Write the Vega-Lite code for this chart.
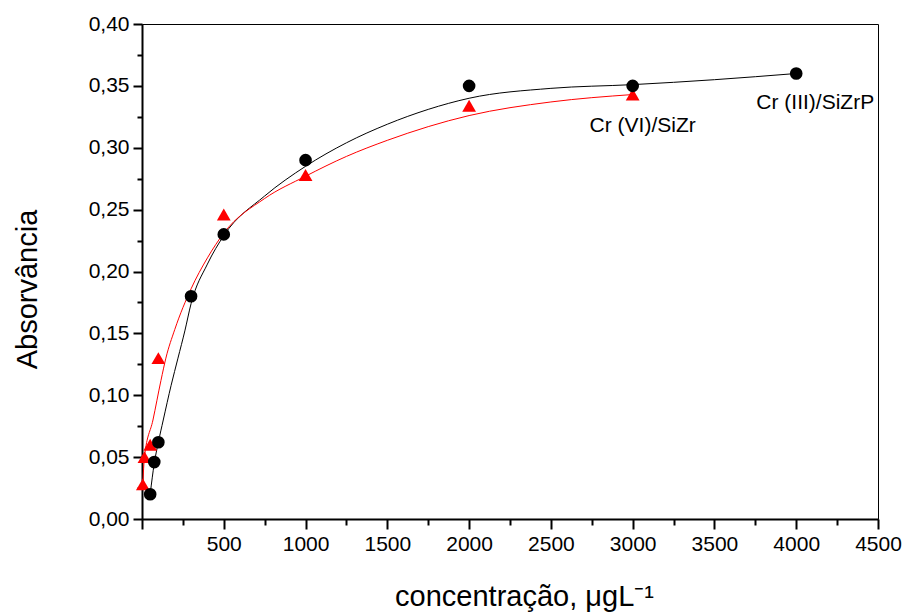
{
  "$schema": "https://vega.github.io/schema/vega-lite/v6.json",
  "width": 736,
  "height": 495,
  "autosize": "none",
  "padding": {"left": 142, "top": 24, "right": 26, "bottom": 95},
  "background": "white",
  "config": {"view": {"stroke": "black", "strokeWidth": 1}, "font": "Liberation Sans"},
  "datasets": {
    "points": [
      {"conc": 50, "abs": 0.020, "series": "Cr (III)/SiZrP"},
      {"conc": 75, "abs": 0.046, "series": "Cr (III)/SiZrP"},
      {"conc": 100, "abs": 0.062, "series": "Cr (III)/SiZrP"},
      {"conc": 300, "abs": 0.180, "series": "Cr (III)/SiZrP"},
      {"conc": 500, "abs": 0.230, "series": "Cr (III)/SiZrP"},
      {"conc": 1000, "abs": 0.290, "series": "Cr (III)/SiZrP"},
      {"conc": 2000, "abs": 0.350, "series": "Cr (III)/SiZrP"},
      {"conc": 3000, "abs": 0.350, "series": "Cr (III)/SiZrP"},
      {"conc": 4000, "abs": 0.360, "series": "Cr (III)/SiZrP"},
      {"conc": 5, "abs": 0.028, "series": "Cr (VI)/SiZr"},
      {"conc": 15, "abs": 0.050, "series": "Cr (VI)/SiZr"},
      {"conc": 50, "abs": 0.060, "series": "Cr (VI)/SiZr"},
      {"conc": 100, "abs": 0.130, "series": "Cr (VI)/SiZr"},
      {"conc": 500, "abs": 0.246, "series": "Cr (VI)/SiZr"},
      {"conc": 1000, "abs": 0.278, "series": "Cr (VI)/SiZr"},
      {"conc": 2000, "abs": 0.334, "series": "Cr (VI)/SiZr"},
      {"conc": 3000, "abs": 0.343, "series": "Cr (VI)/SiZr"}
    ],
    "curves": [
      {"conc": 50, "abs": 0.020, "series": "Cr (III)/SiZrP"},
      {"conc": 75, "abs": 0.045, "series": "Cr (III)/SiZrP"},
      {"conc": 100, "abs": 0.062, "series": "Cr (III)/SiZrP"},
      {"conc": 130, "abs": 0.080, "series": "Cr (III)/SiZrP"},
      {"conc": 178, "abs": 0.108, "series": "Cr (III)/SiZrP"},
      {"conc": 220, "abs": 0.130, "series": "Cr (III)/SiZrP"},
      {"conc": 262, "abs": 0.152, "series": "Cr (III)/SiZrP"},
      {"conc": 300, "abs": 0.174, "series": "Cr (III)/SiZrP"},
      {"conc": 400, "abs": 0.206, "series": "Cr (III)/SiZrP"},
      {"conc": 500, "abs": 0.229, "series": "Cr (III)/SiZrP"},
      {"conc": 750, "abs": 0.261, "series": "Cr (III)/SiZrP"},
      {"conc": 1000, "abs": 0.285, "series": "Cr (III)/SiZrP"},
      {"conc": 1250, "abs": 0.304, "series": "Cr (III)/SiZrP"},
      {"conc": 1500, "abs": 0.319, "series": "Cr (III)/SiZrP"},
      {"conc": 1750, "abs": 0.331, "series": "Cr (III)/SiZrP"},
      {"conc": 2000, "abs": 0.340, "series": "Cr (III)/SiZrP"},
      {"conc": 2500, "abs": 0.348, "series": "Cr (III)/SiZrP"},
      {"conc": 3000, "abs": 0.351, "series": "Cr (III)/SiZrP"},
      {"conc": 3500, "abs": 0.355, "series": "Cr (III)/SiZrP"},
      {"conc": 4000, "abs": 0.360, "series": "Cr (III)/SiZrP"},
      {"conc": 5, "abs": 0.028, "series": "Cr (VI)/SiZr"},
      {"conc": 15, "abs": 0.050, "series": "Cr (VI)/SiZr"},
      {"conc": 67, "abs": 0.080, "series": "Cr (VI)/SiZr"},
      {"conc": 116, "abs": 0.112, "series": "Cr (VI)/SiZr"},
      {"conc": 146, "abs": 0.130, "series": "Cr (VI)/SiZr"},
      {"conc": 200, "abs": 0.153, "series": "Cr (VI)/SiZr"},
      {"conc": 300, "abs": 0.186, "series": "Cr (VI)/SiZr"},
      {"conc": 400, "abs": 0.211, "series": "Cr (VI)/SiZr"},
      {"conc": 500, "abs": 0.231, "series": "Cr (VI)/SiZr"},
      {"conc": 750, "abs": 0.259, "series": "Cr (VI)/SiZr"},
      {"conc": 1000, "abs": 0.277, "series": "Cr (VI)/SiZr"},
      {"conc": 1250, "abs": 0.293, "series": "Cr (VI)/SiZr"},
      {"conc": 1500, "abs": 0.306, "series": "Cr (VI)/SiZr"},
      {"conc": 2000, "abs": 0.326, "series": "Cr (VI)/SiZr"},
      {"conc": 2500, "abs": 0.337, "series": "Cr (VI)/SiZr"},
      {"conc": 3000, "abs": 0.343, "series": "Cr (VI)/SiZr"}
    ]
  },
  "layer": [
    {
      "data": {"name": "curves"},
      "mark": {"type": "line", "interpolate": "monotone", "strokeWidth": 1},
      "encoding": {
        "x": {"field": "conc", "type": "quantitative",
          "scale": {"domain": [0, 4500], "nice": false, "zero": false},
          "axis": {"orient": "bottom", "values": [250, 750, 1250, 1750, 2250, 2750, 3250, 3750, 4250],
            "tickSize": 6, "tickWidth": 2, "tickColor": "black", "labels": false, "domain": false, "grid": false, "title": null}},
        "y": {"field": "abs", "type": "quantitative",
          "scale": {"domain": [0, 0.4], "nice": false, "zero": false},
          "axis": {"orient": "left", "values": [0.025, 0.075, 0.125, 0.175, 0.225, 0.275, 0.325, 0.375],
            "tickSize": 5, "tickWidth": 2, "tickColor": "black", "labels": false, "domain": false, "grid": false, "title": null}},
        "color": {"field": "series", "type": "nominal",
          "scale": {"domain": ["Cr (III)/SiZrP", "Cr (VI)/SiZr"], "range": ["#000000", "#ff0000"]}, "legend": null},
        "detail": {"field": "series"}
      }
    },
    {
      "data": {"name": "points"},
      "transform": [{"filter": "datum.series === 'Cr (VI)/SiZr'"}],
      "mark": {"type": "point", "shape": "triangle-up", "filled": true, "size": 190, "opacity": 1, "color": "#ff0000"},
      "encoding": {
        "x": {"field": "conc", "type": "quantitative", "scale": {"domain": [0, 4500], "nice": false, "zero": false}, "axis": null},
        "y": {"field": "abs", "type": "quantitative", "scale": {"domain": [0, 0.4], "nice": false, "zero": false}, "axis": null}
      }
    },
    {
      "data": {"name": "points"},
      "transform": [{"filter": "datum.series === 'Cr (III)/SiZrP'"}],
      "mark": {"type": "point", "shape": "circle", "filled": true, "size": 160, "opacity": 1, "color": "#000000"},
      "encoding": {
        "x": {"field": "conc", "type": "quantitative",
          "scale": {"domain": [0, 4500], "nice": false, "zero": false},
          "axis": {"orient": "bottom", "values": [0, 500, 1000, 1500, 2000, 2500, 3000, 3500, 4000, 4500],
            "labelExpr": "datum.value === 0 ? '' : format(datum.value, 'd')",
            "tickSize": 10, "tickWidth": 2, "tickColor": "black", "domainWidth": 2, "domainColor": "black",
            "labelFont": "Liberation Sans", "labelFontSize": 21, "labelColor": "black", "labelPadding": 4,
            "labelFlush": false, "labelOverlap": false, "labelBound": false, "grid": false,
            "title": "concentração, μgL⁻¹", "titleFont": "Liberation Sans", "titleFontSize": 29, "titleFontWeight": "normal",
            "titleColor": "black", "titleX": 382, "titleY": 86, "titleBaseline": "alphabetic", "titleAlign": "center"}},
        "y": {"field": "abs", "type": "quantitative",
          "scale": {"domain": [0, 0.4], "nice": false, "zero": false},
          "axis": {"orient": "left", "values": [0, 0.05, 0.1, 0.15, 0.2, 0.25, 0.3, 0.35, 0.4],
            "labelExpr": "replace(format(datum.value, '.2f'), '.', ',')",
            "tickSize": 9, "tickWidth": 2, "tickColor": "black", "domainWidth": 2, "domainColor": "black",
            "labelFont": "Liberation Sans", "labelFontSize": 21, "labelColor": "black", "labelPadding": 4,
            "labelOverlap": false, "labelBound": false, "grid": false,
            "title": "Absorvância", "titleFont": "Liberation Sans", "titleFontSize": 29, "titleFontWeight": "normal",
            "titleColor": "black", "titleX": -106, "titleY": 265, "titleAngle": -90, "titleBaseline": "alphabetic", "titleAlign": "center"}}
      }
    },
    {
      "data": {"name": "points"},
      "transform": [{"filter": "datum.series === 'Cr (VI)/SiZr' && datum.conc === 3000"}],
      "mark": {"type": "text", "dx": 10, "dy": 37, "baseline": "alphabetic", "align": "center", "font": "Liberation Sans", "fontSize": 21, "color": "black"},
      "encoding": {
        "x": {"field": "conc", "type": "quantitative", "scale": {"domain": [0, 4500], "nice": false, "zero": false}, "axis": null},
        "y": {"field": "abs", "type": "quantitative", "scale": {"domain": [0, 0.4], "nice": false, "zero": false}, "axis": null},
        "text": {"field": "series"}
      }
    },
    {
      "data": {"name": "points"},
      "transform": [{"filter": "datum.series === 'Cr (III)/SiZrP' && datum.conc === 4000"}],
      "mark": {"type": "text", "dx": 19, "dy": 35, "baseline": "alphabetic", "align": "center", "font": "Liberation Sans", "fontSize": 21, "color": "black"},
      "encoding": {
        "x": {"field": "conc", "type": "quantitative", "scale": {"domain": [0, 4500], "nice": false, "zero": false}, "axis": null},
        "y": {"field": "abs", "type": "quantitative", "scale": {"domain": [0, 0.4], "nice": false, "zero": false}, "axis": null},
        "text": {"field": "series"}
      }
    }
  ],
  "resolve": {"axis": {"x": "independent", "y": "independent"}}
}
